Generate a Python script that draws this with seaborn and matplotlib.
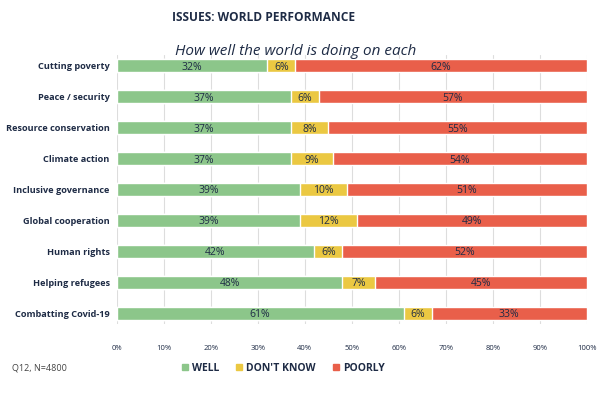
import pandas as pd
import matplotlib.pyplot as plt
import seaborn as sns

# Survey data: how well the world is doing on each issue
issues = ["Cutting poverty", "Peace / security", "Resource conservation", "Climate action",
          "Inclusive governance", "Global cooperation", "Human rights", "Helping refugees",
          "Combatting Covid-19"]
well = [32, 37, 37, 37, 39, 39, 42, 48, 61]
dont_know = [6, 6, 8, 9, 10, 12, 6, 7, 6]
poorly = [62, 57, 55, 54, 51, 49, 52, 45, 33]
ticks = [0, 10, 20, 30, 40, 50, 60, 70, 80, 90, 100]

GREEN = "#8cc68a"
YELLOW = "#ebc842"
RED = "#e95f4a"
NAVY = "#1e2b45"

df = pd.DataFrame({"issue": issues, "well": well, "dk": dont_know, "poorly": poorly})
df["cum_dk"] = df["well"] + df["dk"]
df["total"] = df["cum_dk"] + df["poorly"]

sns.set_style("white")
plt.rcParams["font.family"] = ["Open Sans", "DejaVu Sans"]

fig = plt.figure(figsize=(6.05, 3.96), dpi=100)
ax = fig.add_axes([0.193, 0.182, 0.777, 0.679])

# stacked bars drawn as overlapping cumulative totals
sns.barplot(data=df, y="issue", x="total", color=RED, orient="h", width=0.42,
            saturation=1, ax=ax, zorder=3)
sns.barplot(data=df, y="issue", x="cum_dk", color=YELLOW, orient="h", width=0.42,
            saturation=1, ax=ax, zorder=3)
sns.barplot(data=df, y="issue", x="well", color=GREEN, orient="h", width=0.42,
            saturation=1, ax=ax, zorder=3)

# segment labels
for i, row in df.iterrows():
    ax.text(row["well"] / 2, i, f"{row['well']}%", ha="center", va="center_baseline",
            fontsize=7.5, color=NAVY, zorder=4)
    ax.text(row["well"] + row["dk"] / 2, i, f"{row['dk']}%", ha="center",
            va="center_baseline", fontsize=7.5, color=NAVY, zorder=4)
    ax.text(row["cum_dk"] + row["poorly"] / 2, i, f"{row['poorly']}%", ha="center",
            va="center_baseline", fontsize=7.5, color=NAVY, zorder=4)

ax.set_xlim(0, 100)
ax.set_ylim(8.35, -0.35)
ax.set_xticks(ticks)
ax.set_xticklabels([f"{t}%" for t in ticks], fontsize=5.5, color=NAVY)
ax.tick_params(axis="x", length=0, pad=15)
ax.tick_params(axis="y", length=0, pad=5)
for lbl in ax.get_yticklabels():
    lbl.set_fontsize(6.6)
    lbl.set_fontweight("bold")
    lbl.set_color(NAVY)
ax.set_xlabel("")
ax.set_ylabel("")
ax.grid(axis="x", color="#dddddd", linewidth=0.8, zorder=0)
for s in ax.spines.values():
    s.set_visible(False)

fig.text(0.435, 0.955, "ISSUES: WORLD PERFORMANCE", ha="center", va="center",
         fontsize=8.6, fontweight="bold", color=NAVY)
fig.text(0.488, 0.87, "How well the world is doing on each", ha="center", va="center",
         fontsize=11, style="italic", color=NAVY)
fig.text(0.02, 0.07, "Q12, N=4800", ha="left", va="center", fontsize=6.5, color="#444444")

# legend
handles = [plt.Rectangle((0, 0), 1, 1, color=c) for c in (GREEN, YELLOW, RED)]
fig.legend(handles, ["WELL", "DON'T KNOW", "POORLY"], loc="center",
           bbox_to_anchor=(0.468, 0.07), ncol=3, frameon=False, handlelength=0.6,
           handleheight=0.6, handletextpad=0.4, columnspacing=1.6,
           prop={"size": 7.5, "weight": "bold"}, labelcolor=NAVY)

fig.savefig("out.png", dpi=100)
